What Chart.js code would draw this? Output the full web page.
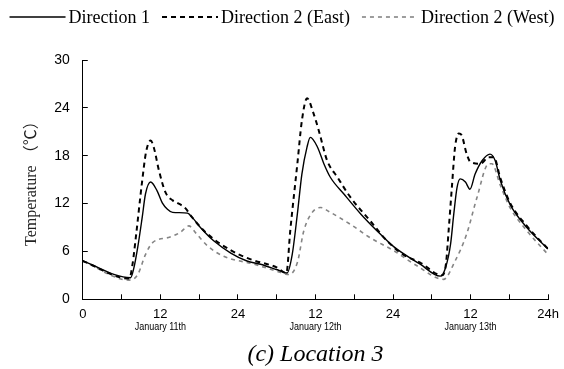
<!DOCTYPE html>
<html>
<head>
<meta charset="utf-8">
<script src="https://cdn.jsdelivr.net/npm/chart.js@4"></script>
<style>
  body { margin: 0; background: #fff; }
  #wrap { width: 564px; height: 369px; }
</style>
</head>
<body>
<div id="wrap"><canvas id="myChart"></canvas></div>
<script>
// hours since 0:00 on January 11th, temperatures in degrees C
const dir1Hours = [0, 7.4, 7.9, 8.5, 9.2, 9.7, 10.5, 11.5, 12.3, 13.1, 13.9, 16.2, 16.9, 18.2, 20.3, 22.9, 25.4, 27.5, 30.1, 31.6, 32.4, 33.2, 33.9, 34.7, 35.2, 36.3, 37.3, 38.3, 40.4, 43.0, 45.5, 48.1, 52.2, 55.3, 56.1, 56.9, 57.4, 57.9, 58.4, 59.2, 59.9, 60.7, 61.8, 63.0, 63.8, 64.6, 66.1, 68.7, 72];
const dir1Temps = [4.8, 2.7, 3.9, 6.5, 10.3, 13.2, 14.7, 13.6, 12.1, 11.3, 10.9, 10.8, 10.3, 9.0, 7.3, 5.8, 4.8, 4.4, 3.7, 3.3, 5.6, 10.7, 15.7, 19.1, 20.3, 19.1, 17.0, 15.3, 13.2, 10.7, 8.6, 6.6, 4.4, 2.9, 3.9, 6.9, 10.7, 14.0, 15.1, 14.7, 13.8, 15.7, 17.4, 18.2, 17.4, 14.9, 11.9, 9.0, 6.3];

const eastHours = [0, 7.2, 7.7, 8.2, 9.2, 9.8, 10.5, 11.0, 11.8, 12.8, 13.9, 14.6, 15.9, 16.7, 19.0, 23.0, 26.0, 30.0, 31.5, 32.1, 33.2, 33.9, 34.7, 35.7, 36.5, 37.8, 39.4, 41.4, 44.5, 47.1, 49.6, 52.2, 55.6, 56.2, 56.6, 57.1, 57.6, 58.2, 58.6, 59.4, 60.0, 61.5, 62.8, 63.6, 64.6, 66.1, 68.7, 72];
const eastTemps = [4.8, 2.6, 4.4, 7.7, 14.9, 18.5, 19.9, 19.0, 16.1, 13.4, 12.4, 12.1, 11.4, 10.5, 8.4, 6.1, 5.0, 4.0, 3.3, 8.6, 17.0, 22.4, 25.2, 23.3, 21.2, 17.4, 15.3, 12.8, 9.8, 7.3, 5.6, 4.6, 3.0, 4.5, 8.6, 14.0, 19.1, 20.8, 20.6, 18.2, 17.2, 17.0, 17.8, 17.8, 15.2, 12.1, 9.2, 6.3];

const westHours = [0, 7.2, 8.5, 9.7, 10.8, 13.5, 15.1, 16.4, 17.5, 19.3, 21.8, 26.5, 30.1, 31.9, 33.2, 34.2, 35.5, 36.8, 38.3, 41.4, 44.5, 48.1, 51.7, 55.8, 57.6, 59.4, 61.0, 62.8, 63.3, 64.6, 66.1, 68.7, 72];
const westTemps = [4.8, 2.4, 3.1, 5.6, 7.1, 7.8, 8.4, 9.2, 8.3, 6.7, 5.4, 4.4, 3.5, 3.1, 4.6, 8.6, 10.9, 11.5, 10.9, 9.4, 7.7, 6.1, 4.2, 2.5, 4.8, 8.2, 12.8, 17.0, 17.0, 14.3, 11.5, 8.6, 5.6];

const seriesNames = ['Direction 1', 'Direction 2 (East)', 'Direction 2 (West)'];
const xTickLabels = ['0', '12', '24', '12', '24', '12', '24h'];
const dayLabels = ['January 11th', 'January 12th', 'January 13th'];
const dayNoonHours = [12, 36, 60];

function pts(hours, temps) {
  return hours.map((h, i) => ({ x: h, y: temps[i] }));
}

// day names under the noon ticks
const dayLabelPlugin = {
  id: 'dayLabels',
  afterDraw(chart) {
    const xs = chart.scales.x;
    const ctx = chart.ctx;
    ctx.save();
    ctx.font = "10px 'Liberation Sans', Arial, sans-serif";
    ctx.fillStyle = '#000';
    ctx.textAlign = 'center';
    ctx.textBaseline = 'middle';
    dayLabels.forEach((t, i) => {
      ctx.save();
      ctx.translate(xs.getPixelForValue(dayNoonHours[i]), xs.top + 28);
      ctx.scale(0.9, 1);
      ctx.fillText(t, 0, 0);
      ctx.restore();
    });
    ctx.restore();
  }
};

// legend drawn by hand so the dashed samples keep their dashes
const lineLegendPlugin = {
  id: 'lineLegend',
  afterDraw(chart) {
    const ctx = chart.ctx;
    const sample = 56, gapText = 3, gapItem = 12, y = 17;
    ctx.save();
    ctx.font = "18px 'Liberation Serif', 'Times New Roman', serif";
    ctx.textBaseline = 'middle';
    ctx.textAlign = 'left';
    const sets = chart.data.datasets;
    let total = 0;
    sets.forEach((ds, i) => {
      total += sample + gapText + ctx.measureText(ds.label).width + (i < sets.length - 1 ? gapItem : 0);
    });
    let x = (chart.width - total) / 2;
    sets.forEach(ds => {
      ctx.beginPath();
      ctx.setLineDash(ds.borderDash || []);
      ctx.lineWidth = ds.borderWidth;
      ctx.strokeStyle = ds.borderColor;
      ctx.moveTo(x, y);
      ctx.lineTo(x + sample, y);
      ctx.stroke();
      ctx.setLineDash([]);
      ctx.fillStyle = '#000';
      ctx.fillText(ds.label, x + sample + gapText, y + 1);
      x += sample + gapText + ctx.measureText(ds.label).width + gapItem;
    });
    ctx.restore();
  }
};

window.onload = function() {
  const data = {
    datasets: [{
      label: seriesNames[0],
      data: pts(dir1Hours, dir1Temps),
      borderColor: '#000',
      borderWidth: 1.4,
      pointRadius: 0,
      cubicInterpolationMode: 'monotone'
    }, {
      label: seriesNames[1],
      data: pts(eastHours, eastTemps),
      borderColor: '#000',
      borderWidth: 2,
      borderDash: [5, 4],
      pointRadius: 0,
      cubicInterpolationMode: 'monotone'
    }, {
      label: seriesNames[2],
      data: pts(westHours, westTemps),
      borderColor: '#858585',
      borderWidth: 1.6,
      borderDash: [4, 4],
      pointRadius: 0,
      cubicInterpolationMode: 'monotone'
    }]
  };

  const config = {
    type: 'line',
    data: data,
    plugins: [dayLabelPlugin, lineLegendPlugin],
    options: {
      responsive: false,
      animation: false,
      layout: { padding: { top: 60, right: 0, left: 22, bottom: 0 } },
      plugins: {
        tooltip: { enabled: false },
        legend: { display: false }
      },
      scales: {
        x: {
          type: 'linear',
          min: 0,
          max: 72,
          border: { color: '#000', width: 1 },
          grid: { drawOnChartArea: false, tickLength: -5, color: '#000' },
          ticks: {
            stepSize: 6,
            autoSkip: false,
            maxRotation: 0,
            padding: 5,
            color: '#000',
            font: { family: "'Liberation Sans', Arial, sans-serif", size: 13, lineHeight: 2.3 },
            callback: v => (v % 12 === 0 ? xTickLabels[v / 12] : '')
          },
          title: {
            display: true,
            text: '(c) Location 3',
            color: '#000',
            padding: { top: 6, bottom: 0 },
            font: { family: "'Liberation Serif', 'Times New Roman', serif", size: 24, style: 'italic' }
          }
        },
        y: {
          min: 0,
          max: 30,
          border: { color: '#000', width: 1 },
          grid: { drawOnChartArea: false, tickLength: -5, color: '#000' },
          ticks: {
            stepSize: 6,
            padding: 18,
            color: '#000',
            font: { family: "'Liberation Sans', Arial, sans-serif", size: 14 }
          },
          title: {
            display: true,
            text: 'Temperature （℃）',
            color: '#222',
            padding: { top: 0, bottom: -5 },
            font: { family: "'Liberation Serif', 'Times New Roman', 'Noto Sans CJK JP', serif", size: 16 }
          }
        }
      }
    }
  };

  const canvas = document.getElementById('myChart');
  canvas.width = 564;
  canvas.height = 369;
  const ctx = canvas.getContext('2d');
  const myChart = new Chart(ctx, config);
};
</script>
</body>
</html>
